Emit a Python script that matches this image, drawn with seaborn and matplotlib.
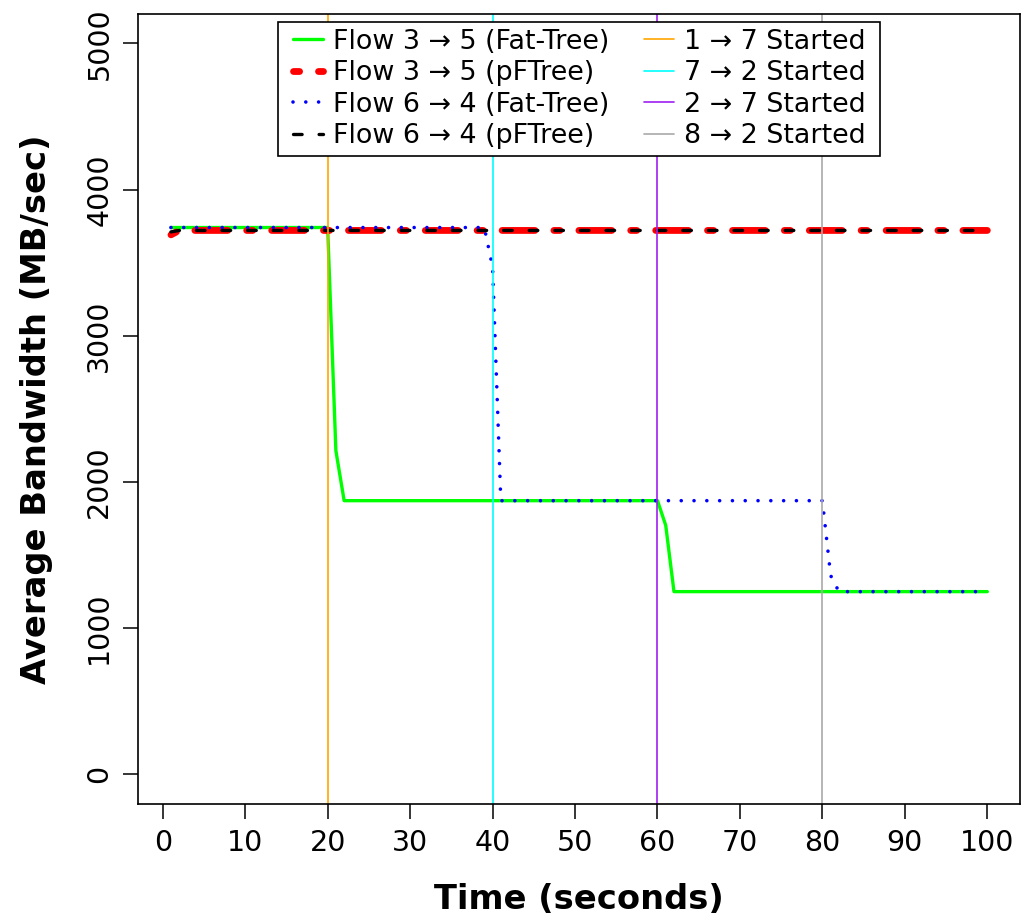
import numpy as np
import pandas as pd
import matplotlib
matplotlib.use("Agg")
import matplotlib.pyplot as plt
import matplotlib.patches as mpatches
import seaborn as sns

# ---------------- data ----------------
time_s = list(range(1, 101))

fat_3_5 = [3740] * 20 + [2213] + [1872] * 39 + [1703] + [1250] * 39
pf_3_5 = [3690] + [3720] * 99
fat_6_4 = [3740] * 39 + [3470] + [1872] * 40 + [1360] + [1250] * 19
pf_6_4 = [3710] + [3720] * 99

event_times = [20, 40, 60, 80]
event_labels = ["1 → 7 Started", "7 → 2 Started", "2 → 7 Started", "8 → 2 Started"]
event_colors = ["#FFA500", "#00FFFF", "#A020F0", "#A9A9A9"]

series_labels = ["Flow 3 → 5 (Fat-Tree)", "Flow 3 → 5 (pFTree)",
                 "Flow 6 → 4 (Fat-Tree)", "Flow 6 → 4 (pFTree)"]

xticks = [0, 10, 20, 30, 40, 50, 60, 70, 80, 90, 100]
yticks = [0, 1000, 2000, 3000, 4000, 5000]

# ---------------- style ----------------
sns.set_theme(style="ticks")
plt.rcParams["font.family"] = ["DejaVu Sans"]
for k in ["text.color", "axes.labelcolor", "xtick.color", "ytick.color",
          "axes.edgecolor"]:
    plt.rcParams[k] = "black"
plt.rcParams["lines.scale_dashes"] = False
plt.rcParams["lines.solid_capstyle"] = "round"
plt.rcParams["lines.dash_capstyle"] = "round"
plt.rcParams["lines.solid_joinstyle"] = "round"
plt.rcParams["lines.dash_joinstyle"] = "round"

fig = plt.figure(figsize=(10.33, 9.17), dpi=100)
ax = fig.add_axes([0.1339, 0.1236, 0.8535, 0.8611])

df = pd.DataFrame({"t": time_s, "fat35": fat_3_5, "pf35": pf_3_5,
                   "fat64": fat_6_4, "pf64": pf_6_4})

sns.lineplot(data=df, x="t", y="fat35", color="#00FF00", lw=2.4, ax=ax,
             label=series_labels[0])
sns.lineplot(data=df, x="t", y="pf35", color="#FF0000", lw=4.9, ax=ax,
             label=series_labels[1])
ax.lines[-1].set_dashes((4.4, 13.6, 23.7, 13.6))
sns.lineplot(data=df, x="t", y="fat64", color="#0000FF", lw=2.6, ax=ax,
             label=series_labels[2])
ax.lines[-1].set_dashes((0.01, 9.205))
sns.lineplot(data=df, x="t", y="pf64", color="black", lw=2.4, ax=ax,
             label=series_labels[3])
ax.lines[-1].set_dashes((6.2, 12.23))

for xv, lab, col in zip(event_times, event_labels, event_colors):
    ax.axvline(xv, color=col, lw=1.2, label=lab)

ax.set_xlim(-2.96, 103.96)
ax.set_ylim(-200, 5200)
ax.set_xticks(xticks)
ax.set_yticks(yticks)
ax.tick_params(axis="both", labelsize=20.5, length=11, width=1.1,
               direction="out", color="black", labelcolor="black", pad=7)
for lab in ax.get_yticklabels():
    lab.set_rotation(90)
    lab.set_va("center")

for sp in ax.spines.values():
    sp.set_visible(True)
    sp.set_color("black")
    sp.set_linewidth(1.2)

ax.set_xlabel("Time (seconds)", fontsize=24.3, fontweight="bold", labelpad=19,
              color="black")
ax.set_ylabel("Average Bandwidth (MB/sec)", fontsize=24.3, fontweight="bold",
              labelpad=23, color="black")

handles, labels = ax.get_legend_handles_labels()
leg = ax.legend(handles, labels, loc="upper center", bbox_to_anchor=(0.5, 1.0),
                ncol=2, fontsize=19.4, frameon=False,
                borderaxespad=0.3,
                handlelength=1.12, handletextpad=0.36, columnspacing=1.3,
                labelspacing=0.2, borderpad=0.25)
for txt in leg.get_texts():
    txt.set_color("black")

# legend frame: wider horizontal padding than vertical (as in R legends)
fig.canvas.draw()
bb = leg.get_window_extent()
extra = 8
W, H = fig.bbox.width, fig.bbox.height
frame = mpatches.Rectangle(((bb.x0 - extra) / W, bb.y0 / H),
                           (bb.width + 2 * extra) / W, bb.height / H,
                           transform=fig.transFigure, facecolor="white",
                           edgecolor="black", lw=1.2, zorder=4.9)
ax.add_patch(frame)
frame.set_clip_on(False)
leg.set_zorder(5)

fig.savefig("out.png", dpi=100, facecolor="white")
